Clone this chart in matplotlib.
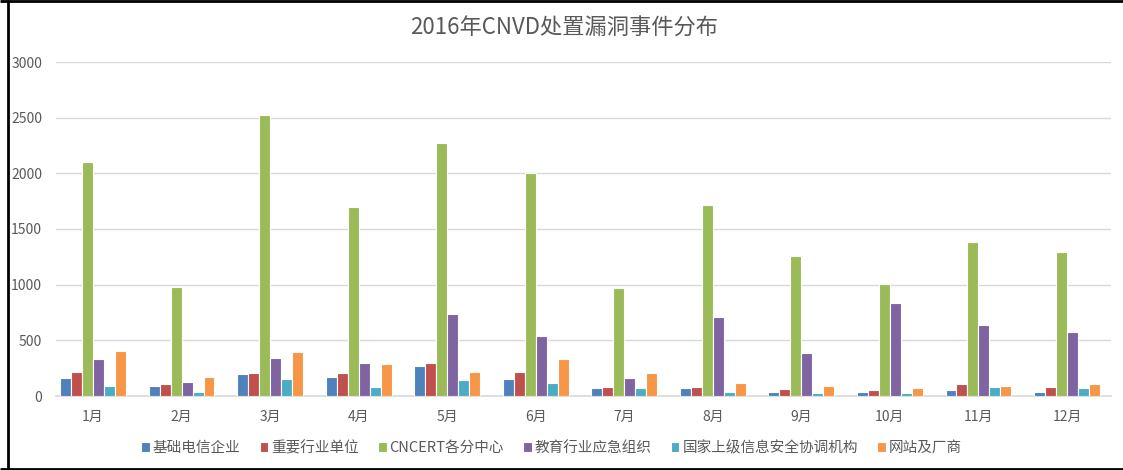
import matplotlib
matplotlib.use("Agg")
import matplotlib.pyplot as plt
from matplotlib.lines import Line2D
import numpy as np

plt.rcParams['font.family'] = ['Noto Sans CJK SC', 'DejaVu Sans']

months = ['1月', '2月', '3月', '4月', '5月', '6月', '7月', '8月', '9月', '10月', '11月', '12月']
series_names = ['基础电信企业', '重要行业单位', 'CNCERT各分中心', '教育行业应急组织',
                '国家上级信息安全协调机构', '网站及厂商']
telecom = [160, 93, 196, 175, 271, 150, 72, 72, 39, 39, 51, 39]
industry = [215, 105, 205, 205, 295, 217, 84, 84, 63, 51, 105, 84]
cncert = [2100, 975, 2520, 1700, 2270, 2000, 969, 1720, 1260, 1010, 1385, 1295]
education = [328, 129, 340, 295, 737, 539, 159, 713, 382, 837, 638, 572]
national = [93, 39, 150, 84, 141, 115, 72, 39, 27, 27, 84, 72]
vendors = [400, 172, 394, 283, 217, 328, 205, 114, 93, 72, 93, 105]
colors = ['#4F81BD', '#C0504D', '#9BBB59', '#8064A2', '#4BACC6', '#F79646']

data = [telecom, industry, cncert, education, national, vendors]

fig = plt.figure(figsize=(11.23, 4.70), dpi=100)
ax = fig.add_axes([56 / 1123, 74 / 470, 1055 / 1123, 334 / 470])

x = np.arange(len(months))
slot = 0.124
for i, vals in enumerate(data):
    ax.bar(x + (i - 2.5) * slot, vals, width=slot, color=colors[i],
           edgecolor='white', linewidth=0.8, label=series_names[i], zorder=3)

ax.set_xlim(-0.418, 11.497)
ax.set_ylim(0, 3000)
ax.set_yticks(range(0, 3001, 500))
ax.set_xticks(x)
ax.set_xticklabels(months)
ax.grid(axis='y', color='#d9d9d9', linewidth=1, zorder=0)
for s in ['top', 'right', 'left']:
    ax.spines[s].set_visible(False)
ax.spines['bottom'].set_color('#d9d9d9')
ax.spines['bottom'].set_linewidth(1.2)
ax.tick_params(axis='both', length=0, colors='#595959', labelsize=10)
ax.tick_params(axis='y', pad=10)
ax.tick_params(axis='x', pad=10)

fig.text(0.502, 1 - 28 / 470, '2016年CNVD处置漏洞事件分布', ha='center', va='center',
         fontsize=16, color='#595959')

fig.legend(loc='center', bbox_to_anchor=(0.491, 1 - 448 / 470), ncol=6, frameon=False,
           fontsize=10.5, handlelength=0.6, handleheight=0.6, handletextpad=0.2,
           columnspacing=1.3, labelcolor='#595959')

# black frame (top, left, bottom)
fig.add_artist(Line2D([7.5 / 1123, 7.5 / 1123], [0, 1], color='black', linewidth=2,
                      solid_capstyle='butt'))
fig.add_artist(Line2D([0, 1], [1 - 1 / 470, 1 - 1 / 470], color='black', linewidth=2,
                      solid_capstyle='butt'))
fig.add_artist(Line2D([0, 1], [1.5 / 470, 1.5 / 470], color='black', linewidth=2,
                      solid_capstyle='butt'))

fig.savefig('out.png', dpi=100)
